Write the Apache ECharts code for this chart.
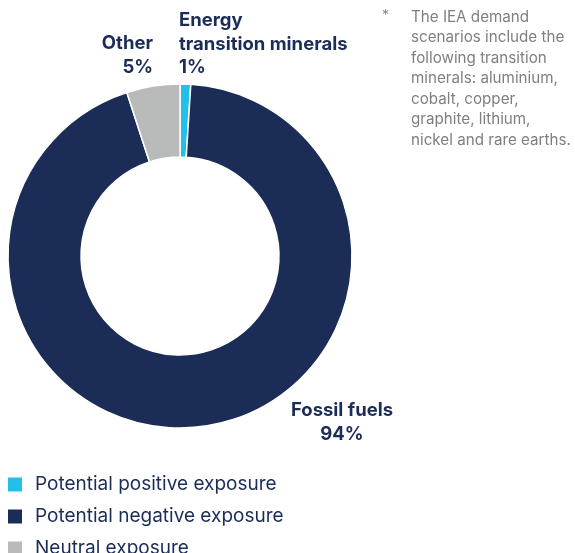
<!DOCTYPE html>
<html>
<head>
<meta charset="utf-8">
<script src="https://cdn.jsdelivr.net/npm/echarts@6/dist/echarts.min.js"></script>
<style>
  html, body { margin: 0; padding: 0; background: #fff; }
  #chart { width: 575px; height: 553px; }
</style>
</head>
<body>
<div id="chart"></div>
<script>
// Exposure categories (legend) and the sector each slice stands for
const exposures = ['Potential positive exposure', 'Potential negative exposure', 'Neutral exposure'];
const sectors = ['Energy\ntransition minerals', 'Fossil fuels', 'Other'];
const shares = [1, 94, 5];
const colors = ['#22bfe9', '#1b2d57', '#b9baba'];
const footnote = [
  'The IEA demand',
  'scenarios include the',
  'following transition',
  'minerals: aluminium,',
  'cobalt, copper,',
  'graphite, lithium,',
  'nickel and rare earths.'
];

const NAVY = '#1b2d57';
const FONT = 'Inter, sans-serif';

// Where each sector label sits and how it is aligned
const labelSpots = [
  { x: 179, y: 9, align: 'left' },
  { x: 342, y: 399, align: 'center' },
  { x: 153, y: 32, align: 'right' }
];

// One legend block per exposure, stacked down the bottom left
const legends = exposures.map((name, i) => ({
  left: 6,
  top: 475 + i * 32,
  padding: 0,
  itemWidth: 16,
  itemHeight: 16,
  icon: 'rect',
  selectedMode: false,
  data: [name],
  textStyle: { color: NAVY, fontSize: 19, fontFamily: FONT, padding: [0, 0, 0, 7] }
}));

const chart = echarts.init(document.getElementById('chart'), null, { renderer: 'canvas' });

chart.setOption({
  animation: false,
  color: colors,
  legend: legends,
  graphic: [
    {
      type: 'text', left: 382, top: 9,
      style: { text: '*', fill: '#8a8a8a', font: '14px ' + FONT }
    },
    {
      type: 'text', left: 411, top: 7,
      style: {
        text: footnote.join('\n'),
        fill: '#7f7f7f',
        font: '15.2px ' + FONT,
        lineHeight: 20.5
      }
    }
  ],
  series: [{
    type: 'pie',
    center: [180, 256],
    radius: [99, 172],
    startAngle: 90,
    clockwise: true,
    avoidLabelOverlap: false,
    itemStyle: { borderColor: '#fff', borderWidth: 1.5 },
    label: {
      show: true,
      position: 'outside',
      color: NAVY,
      fontFamily: FONT,
      fontWeight: 'bold',
      fontSize: 18.5,
      lineHeight: 23.5,
      formatter: p => sectors[p.dataIndex] + '\n' + p.value + '%'
    },
    labelLine: { show: false },
    labelLayout: p => ({
      x: labelSpots[p.dataIndex].x,
      y: labelSpots[p.dataIndex].y,
      align: labelSpots[p.dataIndex].align,
      verticalAlign: 'top'
    }),
    data: exposures.map((name, i) => ({ name: name, value: shares[i] }))
  }]
});
</script>
</body>
</html>
